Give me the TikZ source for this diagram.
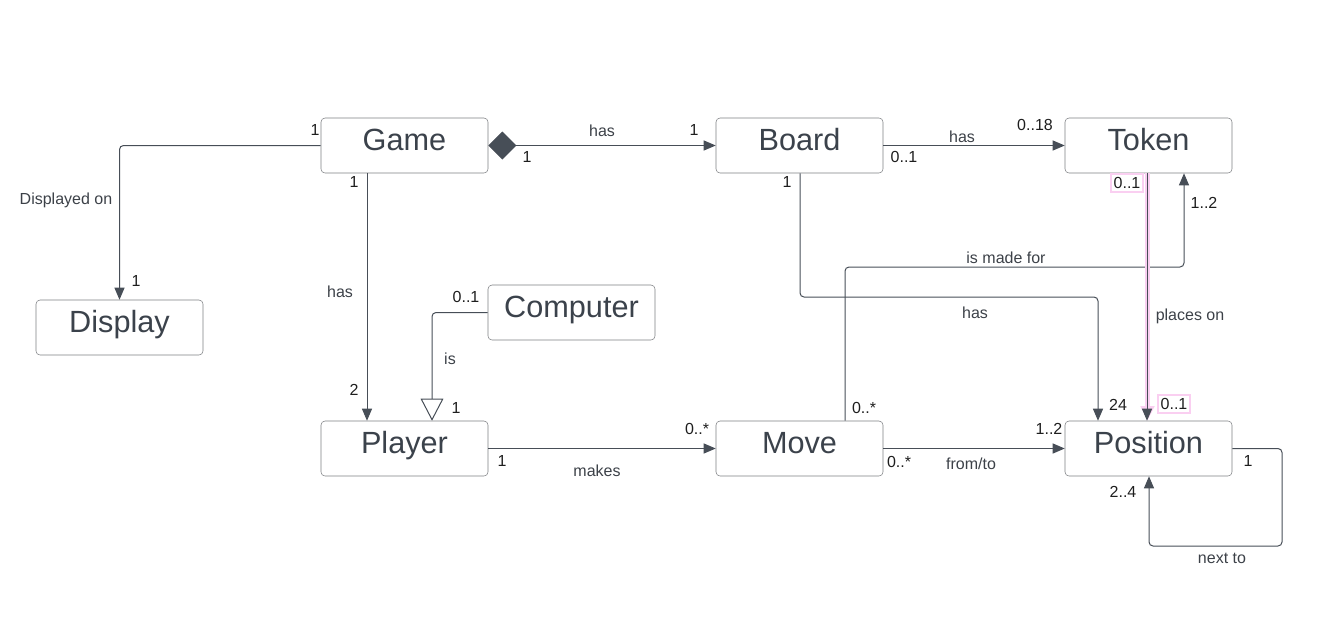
\documentclass[tikz,border=0pt]{standalone}
\usepackage{fontspec}
\setmainfont{Liberation Sans}
\usepackage{tikz}
\usetikzlibrary{arrows.meta}

\definecolor{boxline}{HTML}{7D7F82}
\definecolor{wire}{HTML}{474E57}
\definecolor{nametext}{HTML}{3B424B}
\definecolor{labeltext}{HTML}{3C4148}
\definecolor{multtext}{HTML}{1E1E1E}
\definecolor{pinkhl}{HTML}{FACFF1}

\tikzset{
  classbox/.style={draw=boxline, rounded corners=3pt, inner sep=0pt,
    minimum width=125.25pt, minimum height=41.25pt,
    text height=16.5pt, text depth=8.8pt, text=nametext,
    font=\fontsize{23}{27}\selectfont},
  assoc/.style={draw=wire, line width=0.75pt, rounded corners=3pt,
    -{Triangle[length=9pt,width=7.5pt]}},
  rel/.style={text=labeltext, inner sep=0pt, font=\fontsize{12}{14}\selectfont},
  mult/.style={text=multtext, inner sep=0pt, font=\fontsize{12}{14}\selectfont},
  picked/.style={draw=pinkhl, line width=1.5pt, inner xsep=2pt, inner ysep=2.5pt}
}

\begin{document}
\begin{tikzpicture}[x=0.75pt,y=-0.75pt]
\useasboundingbox (0,0) rectangle (1324,626);

% classes
\node (game) [classbox] at (404.5,145.5) {Game};
\node (board) [classbox] at (799.5,145.5) {Board};
\node (token) [classbox] at (1148.5,145.5) {Token};
\node (display) [classbox] at (119.5,327.5) {Display};
\node (computer) [classbox] at (571.5,312.5) {Computer};
\node (player) [classbox] at (404.5,448.5) {Player};
\node (move) [classbox] at (799.5,448.5) {Move};
\node (position) [classbox] at (1148.5,448.5) {Position};

% game -- display
\draw [assoc] (game.west) -| (display.north);
\node (m1) [mult] at (315,130) {1};
\node (l1) [rel] at (66,200) {Displayed on};
\node (m2) [mult] at (136,281) {1};

% game -- board
\draw [assoc, {Diamond[length=21pt,width=21pt,fill=wire]}-{Triangle[length=9pt,width=7.5pt]}] (game.east) -- (board.west);
\node (l2) [rel] at (602,131) {has};
\node (m3) [mult] at (694,130) {1};
\node (m4) [mult] at (527,157) {1};

% game -- player
\draw [assoc] (367,0 |- game.south) -- (367,0 |- player.north);
\node (m5) [mult] at (354,182) {1};
\node (l3) [rel] at (340,292) {has};
\node (m6) [mult] at (354,390) {2};

% computer -- player
\draw [assoc, -{Triangle[open,length=16.5pt,width=17pt,fill=white]}] (computer.west) -| (432,0 |- player.north);
\node (m7) [mult] at (466,297) {0..1};
\node (l4) [rel] at (450,359) {is};
\node (m8) [mult] at (456,408) {1};

% player -- move
\draw [assoc] (player.east) -- (move.west);
\node (m9) [mult] at (502,461) {1};
\node (l5) [rel] at (597,471) {makes};
\node (m10) [mult] at (697,429) {0..*};

% move -- position
\draw [assoc] (move.east) -- (position.west);
\node (m11) [mult] at (899,462) {0..*};
\node (l6) [rel] at (971,464) {from/to};
\node (m12) [mult] at (1049,429) {1..2};

% board -- token
\draw [assoc] (board.east) -- (token.west);
\node (l7) [rel] at (962,137) {has};
\node (m13) [mult] at (1035,125) {0..18};
\node (m14) [mult] at (904,157) {0..1};

% board -- position
\draw [assoc] (800,0 |- board.south) -- (800,297) -| (1098,0 |- position.north);
\node (m15) [mult] at (787,182) {1};
\node (l8) [rel] at (975,313) {has};
\node (m16) [mult] at (1118,405) {24};

% move -- token
\draw [assoc] (845,0 |- move.north) -- (845,267) -| (1184,0 |- token.south);
\node (m17) [mult] at (864,408) {0..*};
\node (l9) [rel] at (1006,258) {is made for};
\node (m18) [mult] at (1204,203) {1..2};

% token -- position (selected)
\draw [draw=pinkhl, line width=3.5pt, -{Triangle[length=11pt,width=10pt,fill=pinkhl]}] (1147.5,0 |- token.south) -- (1147.5,0 |- position.north);
\draw [assoc] (1147,0 |- token.south) -- (1147,0 |- position.north);
\node (m19) [mult, picked] at (1127,183) {0..1};
\node (l10) [rel] at (1190,316) {places on};
\node (m20) [mult, picked] at (1174,404) {0..1};

% position -- position
\draw [assoc] (position.east) -| (1282,546) -| (1149,0 |- position.south);
\node (m21) [mult] at (1248,461) {1};
\node (m22) [mult] at (1123,492) {2..4};
\node (l11) [rel] at (1222,558) {next to};
\end{tikzpicture}
\end{document}
